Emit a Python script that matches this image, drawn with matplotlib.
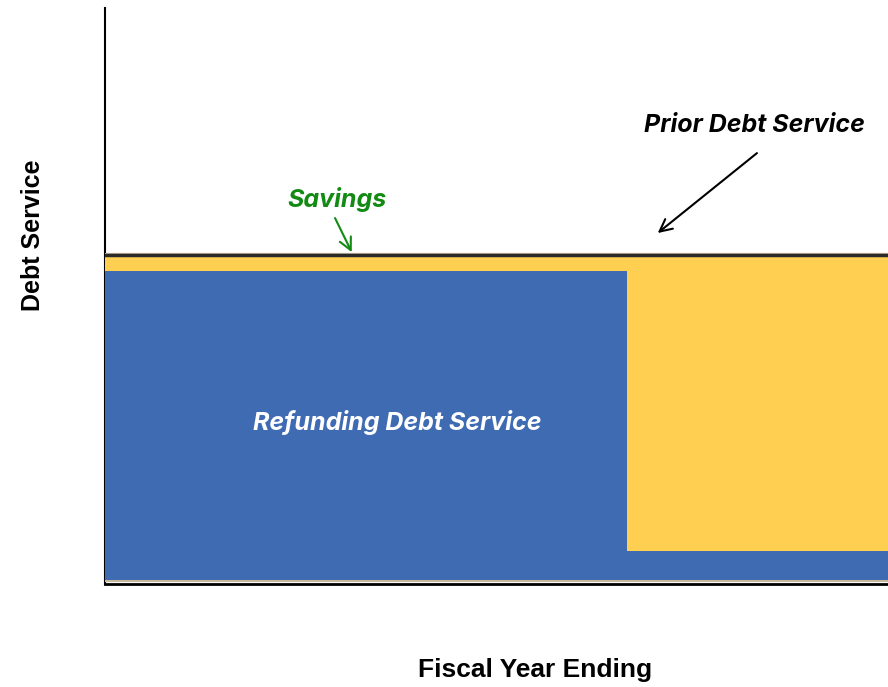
import numpy as np
import matplotlib
matplotlib.use("Agg")
import matplotlib.pyplot as plt

# conceptual refunding chart, 15 fiscal years
years = np.arange(1, 16)
prior_ds = [100] * 15
refunding_ds = [95] * 10 + [9] * 5
savings = [p - r for p, r in zip(prior_ds, refunding_ds)]

blue = "#3f6bb3"
yellow = "#ffcf52"
tan = "#c9b99c"

fig = plt.figure(figsize=(8.88, 6.87), dpi=100)
ax = fig.add_axes([0.118, 0.150, 0.882, 0.838])

# tan outline under the bars (over the spines)
edges = np.append(years - 0.5, years[-1] + 0.5)
ax.fill_between(edges, 0, prior_ds + [prior_ds[-1]], step="post",
                facecolor="none", edgecolor=tan, linewidth=3, zorder=2.6)

ax.bar(years, refunding_ds, width=1.0, color=blue, linewidth=0, zorder=3)
ax.bar(years, savings, width=1.0, bottom=refunding_ds, color=yellow, linewidth=0, zorder=3)

# prior debt service line
ax.step(edges, prior_ds + [prior_ds[-1]], where="post", color="#2a2a2a", linewidth=2.5, zorder=4)

ax.set_xlim(0.5, 15.5)
ax.set_ylim(-1.23, 176)
ax.set_xticks([])
ax.set_yticks([])
ax.spines["top"].set_visible(False)
ax.spines["right"].set_visible(False)
ax.spines["left"].set_linewidth(1.5)
ax.spines["bottom"].set_linewidth(2)

fig.text(0.037, 0.658, "Debt Service", rotation=90, fontsize=18, fontweight="bold",
         family="Liberation Sans", ha="center", va="center")
fig.text(0.602, 0.025, "Fiscal Year Ending", fontsize=19, fontweight="bold",
         family="Liberation Sans", ha="center", va="center")

lab = dict(fontsize=18, fontweight="bold", style="italic", family="Inter",
           ha="center", va="center")

ax.text(6.11, 48.6, "Refunding Debt Service", color="white", zorder=5, **lab)

ax.text(4.96, 117, "Savings", color="#138a13", **lab)
ax.annotate("", xy=(5.23, 100.9), xytext=(4.91, 111.4),
            arrowprops=dict(arrowstyle="->", color="#138a13", lw=1.5, mutation_scale=22,
                            shrinkA=0, shrinkB=0))

ax.text(12.95, 140, "Prior Debt Service", color="black", **lab)
ax.annotate("", xy=(11.09, 106.8), xytext=(12.99, 131.4),
            arrowprops=dict(arrowstyle="->", color="black", lw=1.5, mutation_scale=22,
                            shrinkA=0, shrinkB=0))

fig.savefig("out.png", dpi=100)
